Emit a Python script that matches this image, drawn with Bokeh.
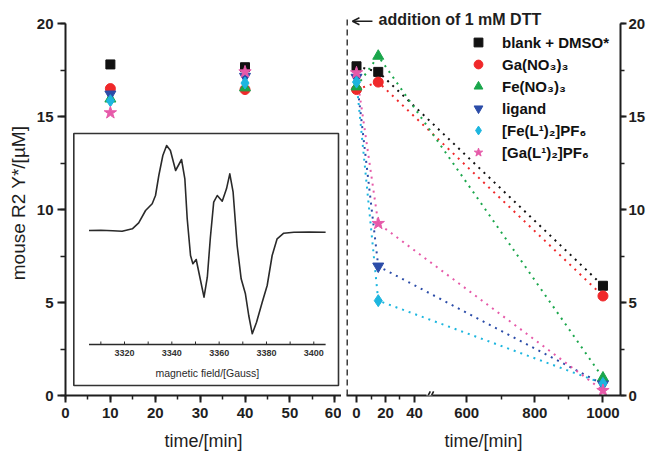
from bokeh.plotting import figure
from bokeh.layouts import row
from bokeh.models import (Range1d, SingleIntervalTicker, FixedTicker, Legend, LegendItem,
                          Label, Arrow, OpenHead, BoxAnnotation)
from bokeh.core.properties import value
from bokeh.embed import file_html
from bokeh.resources import INLINE

FONT = "Liberation Sans"
INK = "#1e1e1e"

# ---------------- data ----------------
series_labels = ["blank + DMSO*", "Ga(NO₃)₃", "Fe(NO₃)₃", "ligand", "[Fe(L¹)₂]PF₆", "[Ga(L¹)₂]PF₆"]
series_colors = ["#111111", "#f0282a", "#1aa64b", "#2b4ca8", "#1db6df", "#e65aa9"]
series_markers = ["square", "circle", "triangle", "inverted_triangle", "diamond", "star"]
series_sizes = [9, 10, 11, 11, 12, 13]

# before DTT (left panel), time in min
left_times = [10, 40]
blank_left = [17.8, 17.65]
ga_left = [16.5, 16.45]
fe_left = [15.95, 16.55]
ligand_left = [16.2, 17.15]
fel_left = [15.85, 16.8]
gal_left = [15.2, 17.4]

# after DTT (right panel), time in min
right_times = [0, 15, 1000]
blank_right = [17.7, 17.4, 5.9]
ga_right = [16.45, 16.85, 5.35]
fe_right = [16.6, 18.25, 0.95]
ligand_right = [17.1, 6.95, 0.6]
fel_right = [16.85, 5.1, 0.65]
gal_right = [17.35, 9.25, 0.27]

right_major_ticks = [0, 20, 40, 600, 800, 1000]
right_minor_ticks = [10, 30, 700, 900]

# inset EPR spectrum (field in Gauss, signal in arbitrary units)
epr_field = [3305, 3310, 3315, 3319, 3323.3, 3326.0, 3328.9, 3331.7, 3333.1, 3334.5,
             3336.2, 3337.8, 3339.4, 3341.6, 3344.1, 3345.5, 3346.5, 3347.9, 3348.9, 3350.3,
             3351.7, 3353.6, 3355.0, 3356.3, 3357.7, 3359.2, 3361.3, 3363.1, 3364.5, 3365.9,
             3367.6, 3369.3, 3371.1, 3372.5, 3374.0, 3375.8, 3378.2, 3380.3, 3382.4, 3384.5,
             3387.3, 3391.6, 3398, 3405]
epr_signal = [0, 0.3, -0.3, -0.7, 1.7, 7.7, 20, 26.7, 35, 55,
              75, 85, 80, 60, 71, 51.7, 11.7, -25, -33.3, -29,
              -45, -66.7, -46.7, -6.7, 28.3, 35, 29.3, 41.7, 56.7, 38.3,
              -15, -48.3, -63.3, -85, -103.3, -91.7, -71.7, -55, -25, -8.3,
              -2.7, -1.7, -1.5, -1.7]
epr_minor_ticks = [3310, 3320, 3330, 3340, 3350, 3360, 3370, 3380, 3390, 3400]
epr_tick_labels = [3320, 3340, 3360, 3380, 3400]

left_series = [blank_left, ga_left, fe_left, ligand_left, fel_left, gal_left]
right_series = [blank_right, ga_right, fe_right, ligand_right, fel_right, gal_right]

# broken-axis transform for the right panel
BREAK_T = 50
SEG_B_T0, SEG_B_U0, SEG_B_SCALE = 600, 76, 0.235


def broken(t):
    return t if t <= BREAK_T else SEG_B_U0 + (t - SEG_B_T0) * SEG_B_SCALE


def style_axis(ax):
    ax.axis_line_width = 2
    ax.axis_line_color = INK
    ax.major_tick_line_width = 2
    ax.minor_tick_line_width = 1.5
    ax.major_tick_line_color = INK
    ax.minor_tick_line_color = INK
    ax.major_tick_in = 0
    ax.major_tick_out = 7
    ax.minor_tick_in = 0
    ax.minor_tick_out = 4
    ax.major_label_text_font = FONT
    ax.major_label_text_font_style = "bold"
    ax.major_label_text_font_size = "15px"
    ax.major_label_text_color = INK
    ax.axis_label_text_font = FONT
    ax.axis_label_text_font_style = "normal"
    ax.axis_label_text_color = INK


H = 455
# ---------------- left panel ----------------
pl = figure(width=341, height=H, x_range=Range1d(0, 61.5), y_range=Range1d(0, 20.7),
            output_backend="svg", toolbar_location=None,
            min_border_left=65, min_border_right=0, min_border_top=10, min_border_bottom=60)
pl.outline_line_color = None
pl.grid.visible = False
pl.background_fill_color = "white"

style_axis(pl.xaxis[0])
style_axis(pl.yaxis[0])
pl.xaxis.ticker = SingleIntervalTicker(interval=10, num_minor_ticks=2)
pl.yaxis.ticker = SingleIntervalTicker(interval=5, num_minor_ticks=2)
pl.yaxis.bounds = (0, 20)
pl.yaxis.major_tick_out = 8
pl.yaxis.minor_tick_out = 5
pl.yaxis.major_label_standoff = 4
pl.yaxis.axis_label = "mouse R2 Y*/[µM]"
pl.yaxis.axis_label_text_font_size = "19px"
pl.yaxis.axis_label_standoff = 5
pl.xaxis.major_label_standoff = 5
pl.xaxis.axis_label = "time/[min]"
pl.xaxis.axis_label_text_font_size = "18px"
pl.xaxis.axis_label_standoff = 10

# inset
pl.extra_x_ranges = {"field": Range1d(3295.06, 3411.71)}
pl.extra_y_ranges = {"epr": Range1d(-165, 220)}
pl.add_layout(BoxAnnotation(left=1.85, right=60.83, top=14.09, bottom=0.54,
                            fill_color="white", fill_alpha=1.0, line_color="#333333",
                            line_alpha=1.0, line_width=1.6, level="underlay"))
pl.line(epr_field, epr_signal, x_range_name="field", y_range_name="epr",
        line_color="#2a2a2a", line_width=1.6, line_join="round")
pl.segment(x0=[epr_field[0]], y0=[-114], x1=[epr_field[-1]], y1=[-114],
           x_range_name="field", y_range_name="epr", line_color="#2a2a2a", line_width=1.4)
pl.segment(x0=epr_minor_ticks, y0=[-114] * len(epr_minor_ticks),
           x1=epr_minor_ticks, y1=[-111] * len(epr_minor_ticks),
           x_range_name="field", y_range_name="epr", line_color="#2a2a2a", line_width=1)
pl.text(x=epr_tick_labels, y=[-122.7] * len(epr_tick_labels),
        text=[str(v) for v in epr_tick_labels], x_range_name="field", y_range_name="epr",
        text_font=value(FONT), text_font_size="9px", text_font_style="bold",
        text_color="#333333", text_align="center", text_baseline="middle")
pl.text(x=[3355], y=[-142], text=["magnetic field/[Gauss]"],
        x_range_name="field", y_range_name="epr",
        text_font=value(FONT), text_font_size="10.5px", text_color="#2a2a2a",
        text_align="center", text_baseline="middle")

for vals, col, mk, sz in zip(left_series, series_colors, series_markers, series_sizes):
    pl.scatter(left_times, vals, marker=mk, size=sz, fill_color=col, line_color=col)

# ---------------- right panel ----------------
pr = figure(width=311, height=H, x_range=Range1d(-6.9, 182.1), y_range=Range1d(0, 20.7),
            y_axis_location="right", output_backend="svg", toolbar_location=None,
            min_border_left=5, min_border_right=32, min_border_top=10, min_border_bottom=60)
pr.outline_line_color = None
pr.grid.visible = False

style_axis(pr.xaxis[0])
style_axis(pr.yaxis[0])
pr.yaxis.ticker = SingleIntervalTicker(interval=5, num_minor_ticks=2)
pr.yaxis.bounds = (0, 20)
pr.yaxis.major_tick_out = 6
pr.yaxis.minor_tick_out = 4
pr.yaxis.major_label_standoff = 2
pr.xaxis.ticker = FixedTicker(ticks=[int(round(broken(t))) for t in right_major_ticks],
                              minor_ticks=[int(round(broken(t))) for t in right_minor_ticks])
pr.xaxis.major_label_overrides = {int(round(broken(t))): str(t) for t in right_major_ticks}
pr.xaxis.major_label_standoff = 5
pr.xaxis.axis_label = "time/[min]"
pr.xaxis.axis_label_text_font_size = "18px"
pr.xaxis.axis_label_standoff = 10

right_u = [broken(t) for t in right_times]
for vals, col in zip(right_series, series_colors):
    pr.line(right_u, vals, line_color=col, line_width=2, line_dash="2 5")

legend_items = []
for vals, col, mk, sz, lbl in zip(right_series, series_colors, series_markers, series_sizes, series_labels):
    r = pr.scatter(right_u, vals, marker=mk, size=sz, fill_color=col, line_color=col)
    legend_items.append(LegendItem(label=lbl, renderers=[r]))

legend = Legend(items=legend_items, location=(121, 232), padding=0, margin=0,
                border_line_color=None, background_fill_alpha=0,
                glyph_width=22, glyph_height=22, label_height=19, spacing=0,
                label_standoff=13, label_text_font=FONT, label_text_font_style="bold",
                label_text_font_size="15px", label_text_color="#111111")
pr.add_layout(legend)

# axis break mark: white gap + two slashes
pr.add_layout(BoxAnnotation(left=48.3, right=52.3, bottom=-0.2, top=0.2, fill_color="white",
                            fill_alpha=1.0, line_alpha=0, level="overlay"))
for x0 in (47.6, 49.9):
    pr.add_layout(Arrow(end=None, x_start=x0, y_start=-0.27, x_end=x0 + 3.3, y_end=0.22,
                        line_color=INK, line_width=1.6, level="overlay"))

# DTT addition marker
pr.add_layout(Arrow(end=None, x_start=-6.6, y_start=-2.69, x_end=-6.6, y_end=20.27,
                    line_color="#333333", line_width=2, line_dash="6 4"))
pr.add_layout(Arrow(end=OpenHead(size=7, line_width=1.5, line_color=INK),
                    x_start=11.0, y_start=20.12, x_end=-2.8, y_end=20.12,
                    line_color=INK, line_width=1.5))
pr.add_layout(Label(x=15.2, y=20.24, text="addition of 1 mM DTT", text_baseline="middle",
                    text_font=FONT, text_font_style="bold", text_font_size="16px",
                    text_color=INK))

layout = row(pl, pr)
open("out.html", "w").write(file_html(layout, INLINE))
